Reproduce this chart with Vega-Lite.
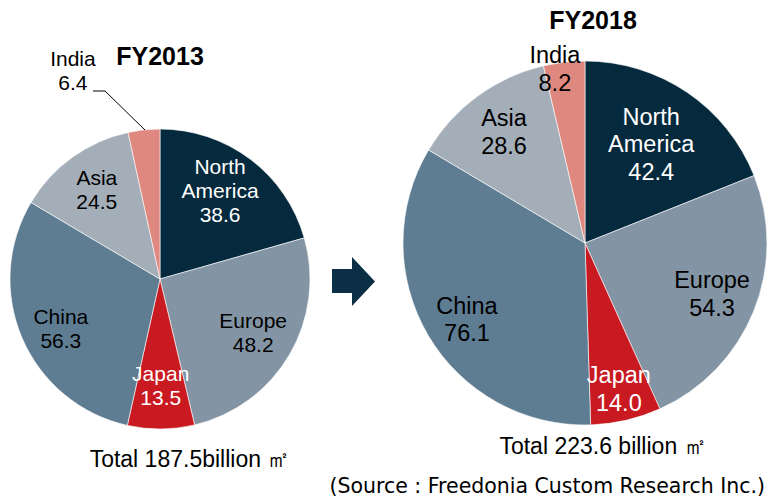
{
  "$schema": "https://vega.github.io/schema/vega-lite/v6.json",
  "width": 769,
  "height": 500,
  "autosize": {"type": "none"},
  "padding": 0,
  "background": "white",
  "config": {"view": {"stroke": null}, "text": {"font": "Liberation Sans"}},
  "datasets": {
    "slices": [
      {"year": "FY2013", "region": "North America", "order": 1, "value": 38.6, "label": "North\nAmerica\n38.6"},
      {"year": "FY2013", "region": "Europe", "order": 2, "value": 48.2, "label": "Europe\n48.2"},
      {"year": "FY2013", "region": "Japan", "order": 3, "value": 13.5, "label": "Japan\n13.5"},
      {"year": "FY2013", "region": "China", "order": 4, "value": 56.3, "label": "China\n56.3"},
      {"year": "FY2013", "region": "Asia", "order": 5, "value": 24.5, "label": "Asia\n24.5"},
      {"year": "FY2013", "region": "India", "order": 6, "value": 6.4, "label": "India\n6.4"},
      {"year": "FY2018", "region": "North America", "order": 1, "value": 42.4, "label": "North\nAmerica\n42.4"},
      {"year": "FY2018", "region": "Europe", "order": 2, "value": 54.3, "label": "Europe\n54.3"},
      {"year": "FY2018", "region": "Japan", "order": 3, "value": 14.0, "label": "Japan\n14.0"},
      {"year": "FY2018", "region": "China", "order": 4, "value": 76.1, "label": "China\n76.1"},
      {"year": "FY2018", "region": "Asia", "order": 5, "value": 28.6, "label": "Asia\n28.6"},
      {"year": "FY2018", "region": "India", "order": 6, "value": 8.2, "label": "India\n8.2"}
    ],
    "pies": [
      {"year": "FY2013", "title": "FY2013", "total": "Total 187.5billion ㎡"},
      {"year": "FY2018", "title": "FY2018", "total": "Total 223.6 billion ㎡"}
    ]
  },
  "data": {"name": "slices"},
  "encoding": {
    "x": {"field": "year", "type": "nominal", "scale": {"type": "point", "padding": 0, "domain": ["FY2013", "FY2018"], "range": [160, 585]}, "axis": null},
    "y": {"field": "year", "type": "nominal", "scale": {"type": "point", "padding": 0, "domain": ["FY2013", "FY2018"], "range": [279, 243]}, "axis": null}
  },
  "layer": [
    {
      "transform": [{"filter": "datum.year == 'FY2013'"}],
      "mark": {"type": "arc", "outerRadius": 150, "stroke": "white", "strokeWidth": 0.6},
      "encoding": {
        "theta": {"field": "value", "type": "quantitative", "stack": "normalize"},
        "order": {"field": "order", "type": "quantitative"},
        "color": {"field": "region", "type": "nominal", "legend": null,
          "scale": {"domain": ["North America", "Europe", "Japan", "China", "Asia", "India"],
                    "range": ["#062a3d", "#8395a4", "#c81a20", "#5e7c92", "#a3aeb8", "#df887f"]}}
      }
    },
    {
      "transform": [{"filter": "datum.year == 'FY2018'"}],
      "mark": {"type": "arc", "outerRadius": 182, "stroke": "white", "strokeWidth": 0.6},
      "encoding": {
        "theta": {"field": "value", "type": "quantitative", "stack": "normalize"},
        "order": {"field": "order", "type": "quantitative"},
        "color": {"field": "region", "type": "nominal", "legend": null}
      }
    },
    {
      "transform": [{"filter": "datum.year == 'FY2013'"}],
      "mark": {"type": "text", "fontSize": 21, "lineHeight": 24, "lineBreak": "\n", "align": "center", "baseline": "middle",
        "radius": {"expr": "datum.region == 'India' ? 225 : 108"},
        "dx": {"expr": "datum.region == 'India' ? -63 : datum.region == 'North America' ? -5 : 0"},
        "dy": {"expr": "datum.region == 'India' ? 5 : datum.region == 'North America' ? -25 : datum.region == 'China' ? -4 : -12"}},
      "encoding": {
        "theta": {"field": "value", "type": "quantitative", "stack": "normalize"},
        "order": {"field": "order", "type": "quantitative"},
        "text": {"field": "label"},
        "color": {"condition": {"test": "datum.region == 'North America' || datum.region == 'Japan'", "value": "white"}, "value": "black"}
      }
    },
    {
      "transform": [{"filter": "datum.year == 'FY2018'"}],
      "mark": {"type": "text", "fontSize": 23.5, "lineHeight": 27.5, "lineBreak": "\n", "align": "center", "baseline": "middle",
        "radius": {"expr": "datum.region == 'India' ? 175 : datum.region == 'Japan' ? 150 : datum.region == 'North America' ? 118 : 137"},
        "dx": {"expr": "datum.region == 'India' ? -10 : 0"},
        "dy": {"expr": "datum.region == 'North America' ? -27.5 : datum.region == 'China' ? -6 : -13"}},
      "encoding": {
        "theta": {"field": "value", "type": "quantitative", "stack": "normalize"},
        "order": {"field": "order", "type": "quantitative"},
        "text": {"field": "label"},
        "color": {"condition": {"test": "datum.region == 'North America' || datum.region == 'Japan'", "value": "white"}, "value": "black"}
      }
    },
    {
      "data": {"name": "pies"},
      "transform": [{"filter": "datum.year == 'FY2013'"}],
      "mark": {"type": "point", "shape": "M-67,-188L-55,-188L-15,-149", "size": 4, "filled": false, "stroke": "black", "strokeWidth": 1, "opacity": 1},
      "encoding": {}
    },
    {
      "data": {"name": "pies"},
      "transform": [{"filter": "datum.year == 'FY2013'"}],
      "mark": {"type": "point", "shape": "M172,-10L192,-10L192,-22L215,2.5L192,27L192,14L172,14Z", "size": 4, "filled": true, "fill": "#0b3045", "strokeWidth": 0, "opacity": 1},
      "encoding": {}
    },
    {
      "data": {"name": "pies"},
      "mark": {"type": "text", "fontSize": 25, "fontWeight": "bold", "align": "center", "baseline": "middle", "dy": -222,
        "dx": {"expr": "datum.year == 'FY2018' ? 8 : 0"}},
      "encoding": {"text": {"field": "title"}}
    },
    {
      "data": {"name": "pies"},
      "mark": {"type": "text", "fontSize": 23, "align": "center", "baseline": "middle",
        "dx": {"expr": "datum.year == 'FY2013' ? 30 : 18"},
        "dy": {"expr": "datum.year == 'FY2013' ? 181 : 204"}},
      "encoding": {"text": {"field": "total"}}
    },
    {
      "data": {"name": "pies"},
      "transform": [{"filter": "datum.year == 'FY2018'"}],
      "mark": {"type": "text", "font": "DejaVu Sans", "fontSize": 20.5, "align": "right", "baseline": "middle", "dx": 180, "dy": 244,
        "text": "(Source : Freedonia Custom Research Inc.)"},
      "encoding": {}
    }
  ]
}
